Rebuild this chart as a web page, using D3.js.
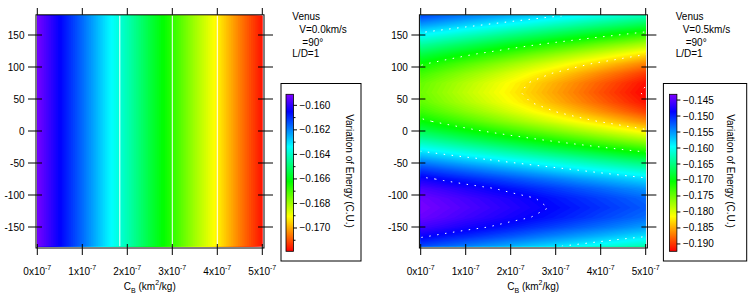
<!doctype html>
<html lang="en">
<head>
	<meta charset="UTF-8">
	<title>Venus - Variation of Energy</title>
	<style>
		body {
			margin: 0;
			background: #fff;
		}

		svg {
			display: block;
			font-family: 'Liberation Sans', Arial, sans-serif;
			font-size: 10px;
		}

		.frame {
			fill: none;
			stroke: #000;
			stroke-width: 1;
		}

		.tick {
			stroke: #000;
			stroke-width: 1;
		}

		.iso {
			fill: none;
			stroke: #fff;
			stroke-width: 1;
		}
	</style>
</head>
<body>
	<script src="https://cdn.jsdelivr.net/npm/d3@7"></script>
	<script>
		// grid columns: C_B (km^2/kg)
		var cbValues = [0, 0.5e-7, 1e-7, 1.5e-7, 2e-7, 2.5e-7, 3e-7, 3.5e-7, 4e-7, 4.5e-7, 5e-7];

		// grid rows of the right panel: angle (deg)
		var thetaValues = [-180, -165, -150, -135, -120, -105, -90, -75, -60, -45, -30, -15, 0,
			15, 30, 45, 60, 75, 90, 105, 120, 135, 150, 165, 180];

		// V = 0.0 km/s : the energy only changes with C_B
		var energyV00 = [-0.1592, -0.1605, -0.1617, -0.1630, -0.1642, -0.1655, -0.1667, -0.1680, -0.1692, -0.1705, -0.1717];

		// V = 0.5 km/s : one row per angle in thetaValues
		var energyV05 = [
			[-0.1516, -0.1528, -0.1539, -0.1550, -0.1561, -0.1572, -0.1583, -0.1594, -0.1606, -0.1617, -0.1628],
			[-0.1483, -0.1494, -0.1504, -0.1514, -0.1524, -0.1535, -0.1545, -0.1555, -0.1565, -0.1576, -0.1586],
			[-0.1458, -0.1467, -0.1477, -0.1486, -0.1496, -0.1506, -0.1515, -0.1525, -0.1534, -0.1544, -0.1554],
			[-0.1441, -0.1450, -0.1460, -0.1469, -0.1478, -0.1487, -0.1496, -0.1505, -0.1515, -0.1524, -0.1533],
			[-0.1435, -0.1444, -0.1453, -0.1462, -0.1471, -0.1480, -0.1489, -0.1498, -0.1507, -0.1516, -0.1525],
			[-0.1440, -0.1449, -0.1458, -0.1467, -0.1476, -0.1485, -0.1495, -0.1504, -0.1513, -0.1522, -0.1531],
			[-0.1455, -0.1464, -0.1474, -0.1483, -0.1493, -0.1503, -0.1512, -0.1522, -0.1531, -0.1541, -0.1550],
			[-0.1479, -0.1490, -0.1500, -0.1510, -0.1520, -0.1530, -0.1540, -0.1551, -0.1561, -0.1571, -0.1581],
			[-0.1512, -0.1523, -0.1534, -0.1545, -0.1556, -0.1567, -0.1578, -0.1589, -0.1600, -0.1611, -0.1622],
			[-0.1550, -0.1562, -0.1574, -0.1585, -0.1597, -0.1609, -0.1621, -0.1633, -0.1645, -0.1657, -0.1669],
			[-0.1590, -0.1603, -0.1616, -0.1629, -0.1642, -0.1656, -0.1669, -0.1682, -0.1695, -0.1708, -0.1721],
			[-0.1631, -0.1645, -0.1660, -0.1674, -0.1688, -0.1702, -0.1716, -0.1730, -0.1744, -0.1758, -0.1772],
			[-0.1670, -0.1685, -0.1700, -0.1715, -0.1730, -0.1745, -0.1760, -0.1775, -0.1790, -0.1805, -0.1821],
			[-0.1703, -0.1719, -0.1735, -0.1751, -0.1767, -0.1783, -0.1799, -0.1815, -0.1830, -0.1846, -0.1862],
			[-0.1729, -0.1745, -0.1762, -0.1778, -0.1795, -0.1812, -0.1828, -0.1845, -0.1861, -0.1878, -0.1895],
			[-0.1745, -0.1762, -0.1779, -0.1796, -0.1813, -0.1830, -0.1847, -0.1864, -0.1881, -0.1898, -0.1915],
			[-0.1751, -0.1768, -0.1786, -0.1803, -0.1820, -0.1837, -0.1854, -0.1871, -0.1889, -0.1906, -0.1923],
			[-0.1747, -0.1764, -0.1781, -0.1798, -0.1815, -0.1832, -0.1849, -0.1866, -0.1883, -0.1900, -0.1917],
			[-0.1731, -0.1748, -0.1765, -0.1781, -0.1798, -0.1815, -0.1831, -0.1848, -0.1865, -0.1881, -0.1898],
			[-0.1707, -0.1723, -0.1739, -0.1755, -0.1771, -0.1787, -0.1803, -0.1819, -0.1835, -0.1851, -0.1867],
			[-0.1675, -0.1690, -0.1705, -0.1720, -0.1735, -0.1751, -0.1766, -0.1781, -0.1796, -0.1811, -0.1827],
			[-0.1637, -0.1651, -0.1665, -0.1679, -0.1694, -0.1708, -0.1722, -0.1736, -0.1751, -0.1765, -0.1779],
			[-0.1596, -0.1609, -0.1622, -0.1635, -0.1649, -0.1662, -0.1675, -0.1688, -0.1701, -0.1714, -0.1728],
			[-0.1555, -0.1567, -0.1579, -0.1591, -0.1603, -0.1615, -0.1628, -0.1640, -0.1652, -0.1664, -0.1676],
			[-0.1516, -0.1528, -0.1539, -0.1550, -0.1561, -0.1572, -0.1583, -0.1594, -0.1606, -0.1617, -0.1628]
		];

		// axis ticks
		var xTickValues = [0, 1e-7, 2e-7, 3e-7, 4e-7, 5e-7];
		var yTickValues = [-150, -100, -50, 0, 50, 100, 150];

		// colour bars
		var barRangeV00 = [-0.1719, -0.1591];
		var barTicksV00 = [-0.170, -0.168, -0.166, -0.164, -0.162, -0.160];
		var barMinorV00 = [-0.171, -0.169, -0.167, -0.165, -0.163, -0.161];
		var barRangeV05 = [-0.1923, -0.1432];
		var barTicksV05 = [-0.190, -0.185, -0.180, -0.175, -0.170, -0.165, -0.160, -0.155, -0.150, -0.145];
		var barMinorV05 = [];

		// white iso lines
		var isoV00 = [-0.1638, -0.1667, -0.1692];
		var isoV05 = [-0.1486, -0.1586, -0.1711, -0.1828, -0.1919];

		var legendV00 = ['Venus', 'V=0.0km/s', '=90°', 'L/D=1'];
		var legendV05 = ['Venus', 'V=0.5km/s', '=90°', 'L/D=1'];
		var barTitle = 'Variation of Energy (C.U.)';

		var w = 748,
			h = 296,
			frameTop = 14.8,
			frameBottom = 248,
			frameLeft = 36,
			frameRight = 264;

		var svg = d3.select('body')
			.append('svg')
			.attr('width', w)
			.attr('height', h);

		var defs = svg.append('defs');

		var xScale = d3.scaleLinear()
			.domain([0, 5e-7])
			.range([37.3, 262.3]);

		var yScale = d3.scaleLinear()
			.domain([-180, 180])
			.range([246.2, 15.8]);


		/**
		* rainbow gradient of the colour bars (red at the bottom, violet at the top)
		*/
		var initGradient = function() {
			var grad = defs.append('linearGradient')
				.attr('id', 'rainbow')
				.attr('x1', 0).attr('y1', 1)
				.attr('x2', 0).attr('y2', 0);
			grad.selectAll('stop')
				.data(d3.range(0, 271, 10))
				.enter()
				.append('stop')
				.attr('offset', function(d) { return d / 270; })
				.attr('stop-color', function(d) { return d3.hsl(d, 1, 0.5).toString(); });
		};


		/**
		* draw one panel
		* @param {object} p panel settings
		* @param {number} idx panel index
		*/
		var drawPanel = function(p, idx) {
			var g = svg.append('g')
				.attr('transform', 'translate(' + p.offset + ',0)');

			var hue = d3.scaleLinear()
				.domain(p.range)
				.range([0, 270])
				.clamp(true);

			var colorOf = function(v) {
				return d3.hsl(hue(v), 1, 0.5).toString();
			};

			// clip to the data area
			defs.append('clipPath')
				.attr('id', 'clip' + idx)
				.append('rect')
				.attr('x', xScale(0))
				.attr('y', yScale(180))
				.attr('width', xScale(5e-7) - xScale(0))
				.attr('height', yScale(-180) - yScale(180));

			var n = cbValues.length,
				m = p.rows.length,
				flat = d3.merge(p.grid),
				cbStep = cbValues[1] - cbValues[0],
				thStep = p.rows[1] - p.rows[0];

			var path = d3.geoPath(d3.geoTransform({
				point: function(u, v) {
					this.stream.point(
						xScale(cbValues[0] + (u - 0.5) * cbStep),
						yScale(p.rows[0] + (v - 0.5) * thStep)
					);
				}
			}));

			var levels = d3.range(p.range[0] - p.step, p.range[1] + p.step, p.step);
			var bands = d3.contours()
				.size([n, m])
				.thresholds(levels)(flat);

			var field = g.append('g')
				.attr('clip-path', 'url(#clip' + idx + ')');

			field.selectAll('path.band')
				.data(bands)
				.enter()
				.append('path')
				.attr('class', 'band')
				.attr('d', path)
				.attr('fill', function(d) { return colorOf(d.value + p.step / 2); });

			var isoLines = d3.contours()
				.size([n, m])
				.thresholds(p.iso)(flat);

			field.selectAll('path.iso')
				.data(isoLines)
				.enter()
				.append('path')
				.attr('class', 'iso')
				.attr('d', path)
				.attr('stroke-dasharray', p.dash);

			// frame
			g.append('rect')
				.attr('class', 'frame')
				.attr('x', frameLeft)
				.attr('y', frameTop)
				.attr('width', frameRight - frameLeft)
				.attr('height', frameBottom - frameTop);

			// x ticks, top and bottom
			xTickValues.forEach(function(d) {
				var x = xScale(d);
				g.append('line').attr('class', 'tick')
					.attr('x1', x).attr('x2', x)
					.attr('y1', 8).attr('y2', frameTop);
				g.append('line').attr('class', 'tick')
					.attr('x1', x).attr('x2', x)
					.attr('y1', 244).attr('y2', 255);

				var lbl = g.append('text')
					.attr('x', x)
					.attr('y', 275)
					.attr('text-anchor', 'middle');
				lbl.append('tspan').text(Math.round(d / 1e-7) + 'x10');
				lbl.append('tspan')
					.attr('dy', -5)
					.attr('font-size', 7)
					.text('-7');
			});

			// y ticks, left and right
			yTickValues.forEach(function(d) {
				var y = yScale(d);
				g.append('line').attr('class', 'tick')
					.attr('x1', frameLeft - 8).attr('x2', frameLeft + 6)
					.attr('y1', y).attr('y2', y);
				g.append('line').attr('class', 'tick')
					.attr('x1', frameRight - 6).attr('x2', frameRight + 9)
					.attr('y1', y).attr('y2', y);
				g.append('text')
					.attr('x', frameLeft - 11.5)
					.attr('y', y + 3.5)
					.attr('text-anchor', 'end')
					.text(d);
			});

			// x axis title
			var title = g.append('text')
				.attr('x', xScale(2.5e-7))
				.attr('y', 290)
				.attr('text-anchor', 'middle');
			title.append('tspan').text('C');
			title.append('tspan').attr('dy', 3).attr('font-size', 7).text('B');
			title.append('tspan').attr('dy', -3).text(' (km');
			title.append('tspan').attr('dy', -5).attr('font-size', 7).text('2');
			title.append('tspan').attr('dy', 5).text('/kg)');

			// legend text
			var legendX = [292.3, 299.3, 302.3, 292.3],
				legendY = [20, 33, 45.5, 57];
			p.legend.forEach(function(t, i) {
				g.append('text')
					.attr('x', legendX[i])
					.attr('y', legendY[i])
					.text(t);
			});

			// colour bar
			var barX = 286,
				barW = 7.5;
			var barScale = d3.scaleLinear()
				.domain(p.range)
				.range([251.3, 94.3]);

			g.append('rect')
				.attr('class', 'frame')
				.attr('x', p.boxX)
				.attr('y', 83.5)
				.attr('width', p.boxW)
				.attr('height', 177.5);

			g.append('rect')
				.attr('x', barX)
				.attr('y', barScale(p.range[1]))
				.attr('width', barW)
				.attr('height', barScale(p.range[0]) - barScale(p.range[1]))
				.attr('fill', 'url(#rainbow)')
				.attr('stroke', '#000')
				.attr('stroke-width', 0.8);

			p.ticks.forEach(function(d) {
				var y = barScale(d);
				g.append('line').attr('class', 'tick')
					.attr('x1', barX + barW).attr('x2', barX + barW + 3.5)
					.attr('y1', y).attr('y2', y);
				g.append('text')
					.attr('x', barX + barW + 6)
					.attr('y', y + 3.5)
					.text(d3.format('.3f')(d));
			});

			p.minor.forEach(function(d) {
				var y = barScale(d);
				g.append('line').attr('class', 'tick')
					.attr('x1', barX + barW).attr('x2', barX + barW + 2)
					.attr('y1', y).attr('y2', y);
			});

			g.append('text')
				.attr('transform', 'translate(' + p.titleX + ',171) rotate(90)')
				.attr('text-anchor', 'middle')
				.text(barTitle);
		};


		initGradient();

		[
			{ offset: 0, rows: [-180, 180], grid: [energyV00, energyV00], range: barRangeV00, step: 0.0001,
				ticks: barTicksV00, minor: barMinorV00, iso: isoV00, dash: null, legend: legendV00,
				boxX: 281, boxW: 80, titleX: 346 },
			{ offset: 383.4, rows: thetaValues, grid: energyV05, range: barRangeV05, step: 0.0004,
				ticks: barTicksV05, minor: barMinorV05, iso: isoV05, dash: '1.5,6.5', legend: legendV05,
				boxX: 280, boxW: 83.3, titleX: 343.5 }
		].forEach(drawPanel);

	</script>
</body>
</html>
